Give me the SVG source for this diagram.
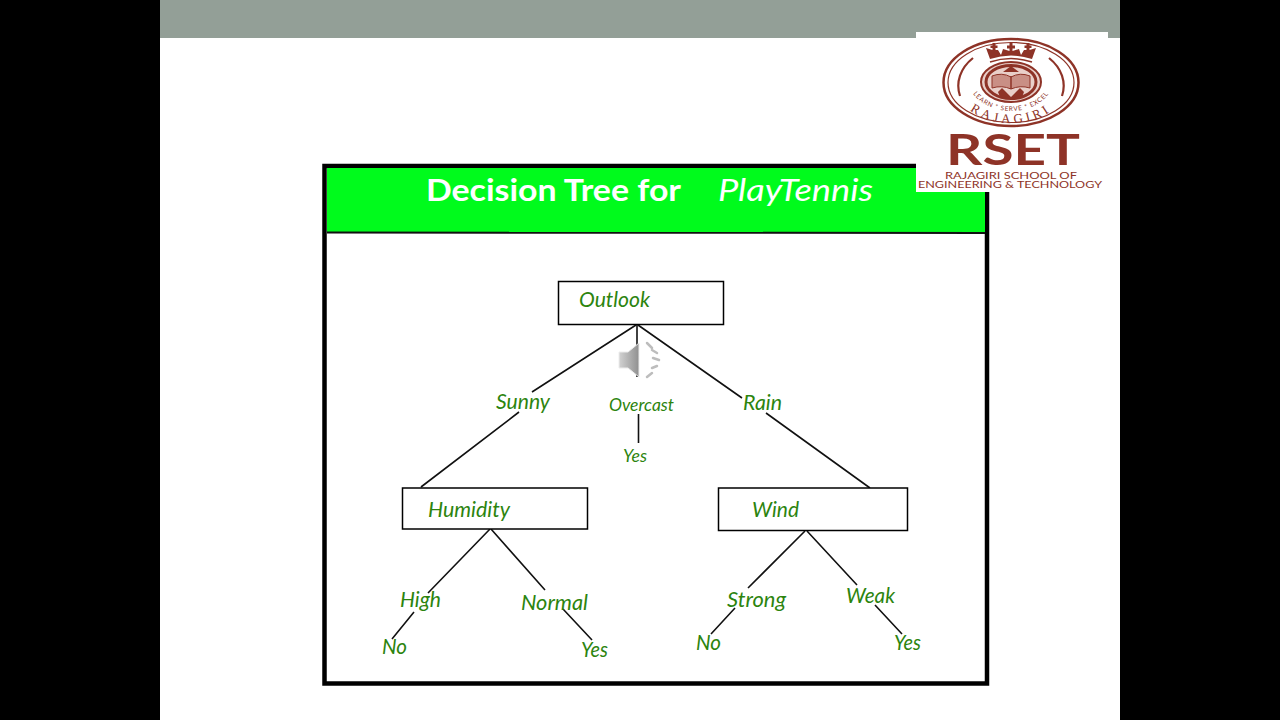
<svg xmlns="http://www.w3.org/2000/svg" width="1280" height="720" viewBox="0 0 1280 720">
<style>
.lbl{font-family:"Lato","Liberation Sans",sans-serif;font-style:italic;fill:#2c840e;font-size:20.500px}
.sm{font-size:16.500px}
.box{fill:#fff;stroke:#000;stroke-width:1.500}
.c{stroke:#111;stroke-width:1.600;fill:none}
.logo{font-family:"Lato","Liberation Sans",sans-serif;fill:#8e3327}
.r{fill:none;stroke:#8e3327}
.w{fill:none;stroke:#bdbdbd;stroke-width:2.500;stroke-linecap:round}
</style>
<defs>
<path id="arcL" d="M968 78 A43 33 0 0 0 1054 78"/>
<path id="arcR" d="M956 85 A55 38 0 0 0 1066 85"/>
<linearGradient id="spk" x1="0" x2="1" y1="0" y2="0"><stop offset="0" stop-color="#d2d2d2"/><stop offset="1" stop-color="#8f8f8f"/></linearGradient>
</defs>
<rect width="1280" height="720" fill="#000"/>
<rect x="160" width="960" height="720" fill="#fff"/>
<rect x="160" width="960" height="38" fill="#939f97"/>
<g id="frame">
<rect x="324.500" y="166" width="662.500" height="517.500" fill="#fff" stroke="#000" stroke-width="4.500"/>
<rect x="327" y="168" width="658" height="64" fill="#00fb1c"/>
<line x1="327" y1="232.500" x2="985" y2="233" stroke="#111" stroke-width="2"/>
<text x="426" y="201" font-family="Lato,'Liberation Sans',sans-serif" font-size="31" font-weight="700" fill="#fff" textLength="255" lengthAdjust="spacingAndGlyphs">Decision Tree for</text>
<text x="718" y="201" font-family="Lato,'Liberation Sans',sans-serif" font-size="31" font-style="italic" fill="#fff" textLength="155" lengthAdjust="spacingAndGlyphs">PlayTennis</text>
</g>
<g id="connectors">
<path class="c" d="M636 325 L532 392M519 412 L421 487"/>
<path class="c" d="M637 325 V377"/>
<path class="c" d="M638 325 L742 398M766 413 L870 488"/>
<path class="c" d="M638.500 414 V443"/>
<path class="c" d="M490 529 L428 593M414 612 L392 639"/>
<path class="c" d="M491 529 L545 590M563 609 L592 640"/>
<path class="c" d="M805 531 L748 588M735 608 L711 634"/>
<path class="c" d="M807 531 L857 585M875 605 L902 634"/>
</g>
<g id="outlook"><rect class="box" x="558.500" y="281.500" width="165" height="43"/><text class="lbl" x="579" y="307" textLength="71" lengthAdjust="spacingAndGlyphs">Outlook</text></g>
<g id="humidity"><rect class="box" x="402.500" y="488" width="185" height="41"/><text class="lbl" x="428" y="517" textLength="82" lengthAdjust="spacingAndGlyphs">Humidity</text></g>
<g id="wind"><rect class="box" x="718.500" y="488" width="189" height="42.500"/><text class="lbl" x="752" y="517" textLength="47" lengthAdjust="spacingAndGlyphs">Wind</text></g>
<g id="sunny"><text class="lbl" x="496" y="409" textLength="54" lengthAdjust="spacingAndGlyphs">Sunny</text></g>
<g id="overcast"><text class="lbl sm" x="609" y="411" textLength="65" lengthAdjust="spacingAndGlyphs">Overcast</text></g>
<g id="rain"><text class="lbl" x="743" y="410" textLength="39" lengthAdjust="spacingAndGlyphs">Rain</text></g>
<g id="yes-overcast"><text class="lbl sm" x="623" y="462" textLength="24" lengthAdjust="spacingAndGlyphs">Yes</text></g>
<g id="high"><text class="lbl" x="400" y="607" textLength="41" lengthAdjust="spacingAndGlyphs">High</text></g>
<g id="normal"><text class="lbl" x="521" y="610" textLength="67" lengthAdjust="spacingAndGlyphs">Normal</text></g>
<g id="strong"><text class="lbl" x="727" y="607" textLength="59" lengthAdjust="spacingAndGlyphs">Strong</text></g>
<g id="weak"><text class="lbl" x="846" y="603" textLength="49" lengthAdjust="spacingAndGlyphs">Weak</text></g>
<g id="no-high"><text class="lbl" x="382" y="654" textLength="25" lengthAdjust="spacingAndGlyphs">No</text></g>
<g id="yes-normal"><text class="lbl" x="581" y="657" textLength="27" lengthAdjust="spacingAndGlyphs">Yes</text></g>
<g id="no-strong"><text class="lbl" x="696" y="650" textLength="25" lengthAdjust="spacingAndGlyphs">No</text></g>
<g id="yes-weak"><text class="lbl" x="894" y="650" textLength="27" lengthAdjust="spacingAndGlyphs">Yes</text></g>
<g id="speaker">
<path d="M619 352 H628 L639 343 V377 L628 368 H619 Z" fill="url(#spk)" stroke="#ececec"/>
<path class="w" d="M647 343 L652 348M652 350 L657 353M653 358 L659 360M652 368 L657 366M647 377 L652 373"/>
</g>
<g id="logo">
<rect x="916" y="32" width="192" height="160" fill="#fff"/>
<ellipse class="r" cx="1011" cy="82.500" rx="67.500" ry="43.500" stroke-width="2.500"/>
<ellipse class="r" cx="1011" cy="82.500" rx="63" ry="40" stroke-width="1.200"/>
<path class="r" stroke-width="2.200" d="M960 96 A52 40 0 0 1 973 58M1049 58 A52 40 0 0 1 1062 96"/>
<ellipse cx="1011" cy="82" rx="30" ry="20" fill="#e9cfc9" stroke="#8e3327" stroke-width="2"/>
<ellipse class="r" cx="1011" cy="82" rx="25" ry="16.500" stroke-width="3"/>
<path d="M992 76 Q1002 72 1011 77 Q1020 72 1030 76 V88 Q1020 85 1011 89 Q1002 85 992 88Z" fill="#c98f85" stroke="#8e3327"/>
<path d="M1011 76 V89" stroke="#8e3327" stroke-width="1.500"/>
<path d="M1003 72 L1011 66 L1019 72Z" fill="#8e3327"/>
<path d="M998 92 L1002 88 L1006 92 L1011 97 L1016 92 L1020 88 L1024 92 L1022 97 H1000Z" fill="#8e3327"/>
<path d="M1009.500 43 H1012.500 V45.500 H1015 V48.500 H1012.500 V51 L1019 49 L1021 55 L1024 50 H1026.500 V48 H1024.500 V45.500 H1026.500 V43 H1029.500 V45.500 H1031.500 V48 H1029.500 V50 L1036 48 L1032 59 Q1011 52 990 59 L986 48 L992.500 50 V48 H990.500 V45.500 H992.500 V43 H995.500 V45.500 H997.500 V48 H995.500 V50 H998 L1001 55 L1003 49 L1009.500 51 V48.500 H1007 V45.500 H1009.500Z" fill="#8e3327"/>
<path class="r" stroke-width="1.500" d="M990 62 Q1011 55 1032 62"/>
<text class="logo" font-size="6.500" letter-spacing="0.700"><textPath href="#arcL" startOffset="50%" text-anchor="middle">LEARN * SERVE * EXCEL</textPath></text>
<text class="logo" font-size="13" letter-spacing="3.500" style="font-family:'Liberation Serif',serif"><textPath href="#arcR" startOffset="50%" text-anchor="middle">RAJAGIRI</textPath></text>
<text class="logo" x="946" y="165" font-size="42" font-weight="700" textLength="134" lengthAdjust="spacingAndGlyphs">RSET</text>
<text class="logo" x="1011" y="178.500" font-size="9.500" text-anchor="middle" textLength="132" lengthAdjust="spacingAndGlyphs">RAJAGIRI SCHOOL OF</text>
<text class="logo" x="1010" y="188" font-size="9.500" text-anchor="middle" textLength="184" lengthAdjust="spacingAndGlyphs">ENGINEERING &amp; TECHNOLOGY</text>
</g>
</svg>
